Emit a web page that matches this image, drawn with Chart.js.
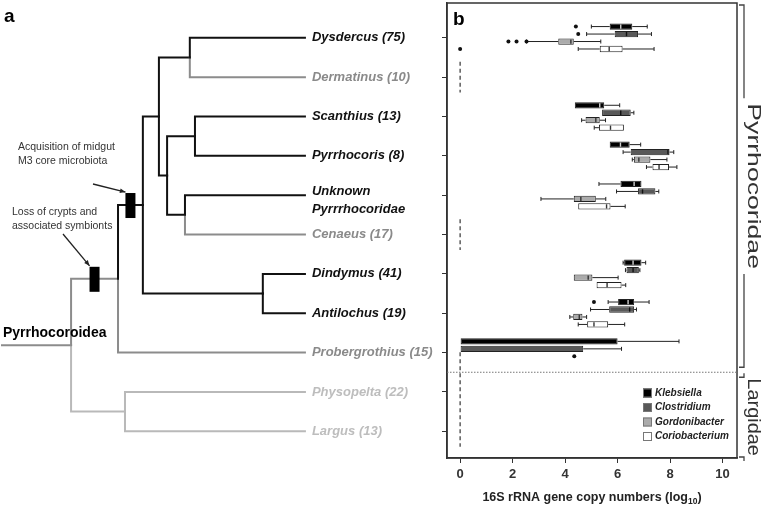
<!DOCTYPE html>
<html>
<head>
<meta charset="utf-8">
<script src="https://cdn.jsdelivr.net/npm/chart.js@4.4.1/dist/chart.umd.min.js"></script>
<style>
  html, body { margin: 0; padding: 0; background: #fff; }
  #wrap { position: relative; width: 764px; height: 507px; }
  canvas { position: absolute; left: 0; top: 0; }
  #tree { pointer-events: none; }
</style>
</head>
<body>
<div id="wrap">
  <canvas id="boxes" width="764" height="507"></canvas>
  <canvas id="tree" width="764" height="507"></canvas>
</div>
<script>
// ---- tree data ----
const taxa = ['Dysdercus (75)', 'Dermatinus (10)', 'Scanthius (13)', 'Pyrrhocoris (8)',
  'Unknown\nPyrrrhocoridae', 'Cenaeus (17)', 'Dindymus (41)', 'Antilochus (19)',
  'Probergrothius (15)', 'Physopelta (22)', 'Largus (13)'];
const taxonGroup = [0, 1, 0, 0, 0, 1, 0, 0, 1, 2, 2]; // 0 core microbiota, 1 lost, 2 Largidae
// clades are numbered after the taxa (11, 12, ...)
const cladeChildren = [[0, 1], [2, 3], [4, 5], [12, 13], [11, 14], [6, 7], [15, 16], [17, 8], [9, 10], [18, 19]];
const cladeDepth = [6.2, 6.37, 6.04, 5.45, 5.18, 8.61, 4.65, 3.83, 4.06, 2.28];
const cladeGroup = [0, 0, 0, 0, 0, 0, 0, 1, 2, 1];
const leafDepth = 10;
const events = [
  { clade: 17, lines: ['Acquisition of midgut', 'M3 core microbiota'] },
  { clade: 18, lines: ['Loss of crypts and', 'associated symbionts'] }
];

// ---- box plot data: [min, q1, median, q3, max] in log10 copies, null = not detected ----
const series = ['Klebsiella', 'Clostridium', 'Gordonibacter', 'Coriobacterium'];
const klebsiella = [
  [5.0, 5.7, 6.12, 6.56, 7.13], null, [4.37, 4.37, 5.32, 5.49, 6.08], [5.7, 5.7, 6.11, 6.46, 6.88],
  [5.29, 6.11, 6.63, 6.91, 6.91], null, [6.21, 6.25, 6.59, 6.91, 7.07], [5.64, 6.02, 6.4, 6.63, 7.2],
  [0, 0, 0, 6.0, 8.34], null, null];
const clostridium = [
  [4.82, 5.89, 6.34, 6.78, 7.29], null, [5.41, 5.41, 6.12, 6.5, 6.62], [6.21, 6.5, 7.92, 7.98, 8.14],
  [5.96, 6.78, 6.95, 7.44, 7.57], null, [6.3, 6.34, 6.59, 6.81, 6.85], [4.97, 5.68, 6.46, 6.63, 6.72],
  [0, 0, 0, 4.69, 6.15], null, null];
const gordonibacter = [
  [2.53, 3.74, 4.22, 4.33, 5.36], null, [4.63, 4.78, 5.17, 5.32, 5.54], [6.56, 6.62, 6.81, 7.25, 7.88],
  [3.08, 4.33, 4.6, 5.17, 5.55], null, [4.33, 4.33, 4.88, 5.04, 6.02], [4.18, 4.31, 4.54, 4.66, 4.82],
  null, null, null];
const coriobacterium = [
  [4.5, 5.32, 5.68, 6.19, 7.39], null, [5.11, 5.29, 5.73, 6.24, 6.24], [7.1, 7.33, 7.58, 7.96, 8.26],
  [4.5, 4.5, 5.58, 5.73, 6.29], null, [5.2, 5.2, 5.6, 6.15, 6.31], [4.5, 4.84, 5.1, 5.64, 6.27],
  null, null, null];
// outliers as [row, value]
const klebsiellaOut = [[0, 4.41], [7, 5.1]];
const clostridiumOut = [[0, 4.5]];
const gordonibacterOut = [[0, 1.84], [0, 2.15], [0, 2.53], [8, 4.35]];
const coriobacteriumOut = [[0, 0]];
const xTicks = [0, 2, 4, 6, 8, 10];

// ---- shared layout ----
const rowMin = -0.884, rowMax = 10.679;
const FONT = '"Liberation Sans", Arial, sans-serif';
const stats = [klebsiella, clostridium, gordonibacter, coriobacterium];
const outliers = [klebsiellaOut, clostridiumOut, gordonibacterOut, coriobacteriumOut];
const fills = ['#000000', '#595959', '#ababab', '#ffffff'];
const medianColors = ['#cfcfcf', '#111111', '#333333', '#333333'];

// build tree nodes
const nodeY = taxa.map((t, i) => i);
const nodeDepth = taxa.map(() => leafDepth);
const nodeGroup = taxonGroup.slice();
const parentOf = {};
cladeChildren.forEach((ch, k) => {
  const id = taxa.length + k;
  nodeY.push((nodeY[ch[0]] + nodeY[ch[1]]) / 2);
  nodeDepth.push(cladeDepth[k]);
  nodeGroup.push(cladeGroup[k]);
  ch.forEach(c => parentOf[c] = id);
});
const rootId = nodeY.length - 1;
const branchColor = ['#111111', '#8c8c8c', '#b9b9b9'];
const labelColor = ['#111111', '#8a8a8a', '#bdbdbd'];

const branches = [];
cladeChildren.forEach((ch, k) => {
  const p = taxa.length + k;
  ch.forEach(c => branches.push({
    data: [{ x: nodeDepth[p], y: nodeY[p] }, { x: nodeDepth[p], y: nodeY[c] }, { x: nodeDepth[c], y: nodeY[c] }],
    borderColor: branchColor[nodeGroup[c]]
  }));
});
branches.push({
  data: [{ x: 0, y: nodeY[rootId] }, { x: nodeDepth[rootId], y: nodeY[rootId] }],
  borderColor: branchColor[nodeGroup[rootId]]
});

// tree labels, event markers, annotations
const treeText = {
  id: 'treeText',
  afterDraw(chart) {
    const ctx = chart.ctx, xs = chart.scales.x, ys = chart.scales.y;
    ctx.save();
    ctx.textBaseline = 'middle';
    ctx.font = 'bold italic 13px ' + FONT;
    taxa.forEach((t, i) => {
      const px = xs.getPixelForValue(leafDepth) + 7, py = ys.getPixelForValue(i);
      const lines = t.split('\n');
      ctx.fillStyle = labelColor[taxonGroup[i]];
      lines.forEach((line, k) => ctx.fillText(line, px, lines.length > 1 ? py - 4 + k * 18 : py));
    });
    // events on stems
    const annot = [
      { text: [18, 147], arrow: [93, 184] },
      { text: [12, 212], arrow: [63, 234] }
    ];
    events.forEach((ev, e) => {
      const c = ev.clade, p = parentOf[c];
      const cx = (xs.getPixelForValue(nodeDepth[c]) + xs.getPixelForValue(nodeDepth[p])) / 2;
      const cy = ys.getPixelForValue(nodeY[c]);
      ctx.fillStyle = '#000';
      ctx.fillRect(cx - 5, cy - 12, 10, 25);
      ctx.font = '10.5px ' + FONT;
      ctx.fillStyle = '#333';
      ev.lines.forEach((l, k) => ctx.fillText(l, annot[e].text[0], annot[e].text[1] + k * 14));
      const [ax, ay] = annot[e].arrow, bx = cx - 5, by = cy - 13;
      ctx.strokeStyle = '#222';
      ctx.lineWidth = 1.3;
      ctx.beginPath(); ctx.moveTo(ax, ay); ctx.lineTo(bx, by); ctx.stroke();
      const ang = Math.atan2(by - ay, bx - ax);
      ctx.beginPath();
      ctx.moveTo(bx, by);
      ctx.lineTo(bx - 6 * Math.cos(ang - 0.4), by - 6 * Math.sin(ang - 0.4));
      ctx.lineTo(bx - 6 * Math.cos(ang + 0.4), by - 6 * Math.sin(ang + 0.4));
      ctx.closePath(); ctx.fillStyle = '#222'; ctx.fill();
    });
    ctx.fillStyle = '#000';
    ctx.font = 'bold 14px ' + FONT;
    ctx.fillText('Pyrrhocoroidea', 3, ys.getPixelForValue(nodeY[rootId]) - 12);
    ctx.font = 'bold 19px ' + FONT;
    ctx.fillText('a', 4, 17);
    ctx.restore();
  }
};

new Chart(document.getElementById('tree'), {
  type: 'scatter',
  data: { datasets: branches.map(b => Object.assign({ showLine: true, clip: false }, b)) },
  options: {
    responsive: false, animation: false, devicePixelRatio: 1,
    layout: { padding: { left: 0, right: 317, top: 3, bottom: 49 } },
    plugins: { legend: { display: false }, tooltip: { enabled: false } },
    elements: {
      point: { radius: 0, hoverRadius: 0 },
      line: { borderWidth: 2, tension: 0, borderCapStyle: 'square', borderJoinStyle: 'miter' }
    },
    scales: {
      x: { type: 'linear', display: false, min: -0.066, max: 14.69 },
      y: { type: 'linear', display: false, min: rowMin, max: rowMax, reverse: true }
    }
  },
  plugins: [treeText]
});

// whiskers, medians, outliers, not-detected dashes
const boxDetails = {
  id: 'boxDetails',
  afterDatasetsDraw(chart) {
    const ctx = chart.ctx, xs = chart.scales.x;
    const gaps = [];
    ctx.save();
    chart.data.datasets.forEach((ds, i) => {
      const meta = chart.getDatasetMeta(i);
      meta.data.forEach((bar, row) => {
        const s = stats[i][row], h = bar.height, y = bar.y;
        if (!s) { gaps.push([y - h / 2 - 1, y + h / 2 + 1]); return; }
        ctx.strokeStyle = '#222';
        ctx.lineWidth = 1;
        const px = s.map(v => xs.getPixelForValue(v));
        ctx.beginPath();
        if (s[0] < s[1]) { ctx.moveTo(px[0], y); ctx.lineTo(px[1], y); ctx.moveTo(px[0], y - 2); ctx.lineTo(px[0], y + 2); }
        if (s[4] > s[3]) { ctx.moveTo(px[3], y); ctx.lineTo(px[4], y); ctx.moveTo(px[4], y - 2); ctx.lineTo(px[4], y + 2); }
        ctx.stroke();
        if (s[2] > s[1]) {
          ctx.strokeStyle = medianColors[i];
          ctx.lineWidth = 1.4;
          ctx.beginPath(); ctx.moveTo(px[2], y - h / 2 + 1); ctx.lineTo(px[2], y + h / 2 - 1); ctx.stroke();
        }
      });
      ctx.fillStyle = '#111';
      outliers[i].forEach(([row, v]) => {
        const bar = meta.data[row];
        ctx.beginPath(); ctx.arc(xs.getPixelForValue(v), bar.y, 2, 0, Math.PI * 2); ctx.fill();
      });
    });
    // merge not-detected slots into dashed runs at zero
    gaps.sort((a, b) => a[0] - b[0]);
    const runs = [];
    gaps.forEach(g => {
      const last = runs[runs.length - 1];
      if (last && g[0] - last[1] < 12) last[1] = Math.max(last[1], g[1]); else runs.push(g.slice());
    });
    const x0 = xs.getPixelForValue(0);
    ctx.strokeStyle = '#444';
    ctx.lineWidth = 1.3;
    ctx.setLineDash([4, 3]);
    runs.forEach(r => { ctx.beginPath(); ctx.moveTo(x0, r[0]); ctx.lineTo(x0, r[1]); ctx.stroke(); });
    ctx.restore();
  },
  afterDraw(chart) {
    const ctx = chart.ctx, a = chart.chartArea, ys = chart.scales.y;
    ctx.save();
    // frame
    ctx.strokeStyle = '#333';
    ctx.lineWidth = 1.5;
    ctx.strokeRect(a.left, a.top, a.right - a.left, a.bottom - a.top);
    // family divider
    const yd = ys.getPixelForValue(8.5);
    ctx.setLineDash([1.5, 1.5]);
    ctx.strokeStyle = '#777';
    ctx.lineWidth = 1;
    ctx.beginPath(); ctx.moveTo(a.left, yd); ctx.lineTo(a.right, yd); ctx.stroke();
    ctx.setLineDash([]);
    // legend
    ctx.font = 'bold italic 10px ' + FONT;
    ctx.textBaseline = 'middle';
    chart.data.datasets.forEach((ds, i) => {
      const y = 393 + i * 14.5;
      ctx.fillStyle = fills[i];
      ctx.fillRect(643, y - 4.5, 9, 9);
      ctx.strokeStyle = '#777';
      ctx.lineWidth = 1;
      ctx.strokeRect(643.5, y - 4, 8, 8);
      ctx.fillStyle = '#222';
      ctx.fillText(ds.label, 655, y);
    });
    // panel letter
    ctx.fillStyle = '#000';
    ctx.font = 'bold 19px ' + FONT;
    ctx.textBaseline = 'alphabetic';
    ctx.fillText('b', 453, 25);
    // axis title with subscript
    const t1 = '16S rRNA gene copy numbers (log', t2 = '10', t3 = ')';
    ctx.font = 'bold 12.5px ' + FONT;
    const w1 = ctx.measureText(t1).width, w3 = ctx.measureText(t3).width;
    ctx.font = 'bold 8.5px ' + FONT;
    const w2 = ctx.measureText(t2).width;
    let x = (a.left + a.right) / 2 - (w1 + w2 + w3) / 2;
    ctx.fillStyle = '#222';
    ctx.font = 'bold 12.5px ' + FONT;
    ctx.fillText(t1, x, 501);
    ctx.font = 'bold 8.5px ' + FONT;
    ctx.fillText(t2, x + w1, 504);
    ctx.font = 'bold 12.5px ' + FONT;
    ctx.fillText(t3, x + w1 + w2, 501);
    // family brackets
    const bx = 744;
    ctx.strokeStyle = '#444';
    ctx.lineWidth = 1.3;
    const bracket = (y0, y1, name, stretch) => {
      const ym = (y0 + y1) / 2;
      ctx.font = '19px ' + FONT;
      const half = ctx.measureText(name).width * stretch / 2 + 5;
      ctx.beginPath();
      ctx.moveTo(bx - 5, y0); ctx.lineTo(bx, y0); ctx.lineTo(bx, ym - half);
      ctx.moveTo(bx, ym + half); ctx.lineTo(bx, y1); ctx.lineTo(bx - 5, y1);
      ctx.stroke();
      ctx.save();
      ctx.translate(bx + 9, ym);
      ctx.rotate(Math.PI / 2);
      ctx.scale(stretch, 1);
      ctx.textAlign = 'center';
      ctx.textBaseline = 'middle';
      ctx.fillStyle = '#333';
      ctx.fillText(name, 0, 0);
      ctx.restore();
    };
    bracket(a.top + 2, yd - 5, 'Pyrrhocoridae', 1.4);
    bracket(yd + 5, a.bottom - 1, 'Largidae', 1.05);
    ctx.restore();
  }
};

new Chart(document.getElementById('boxes'), {
  type: 'bar',
  data: {
    datasets: series.map((name, i) => ({
      label: name,
      data: stats[i].map((s, row) => ({ y: row, x: s ? [s[1], s[3]] : [0, 0] })),
      backgroundColor: ctx => stats[i][ctx.dataIndex] ? fills[i] : 'rgba(0,0,0,0)',
      borderColor: '#222',
      borderWidth: ctx => stats[i][ctx.dataIndex] ? 1 : 0,
      borderSkipped: false,
      categoryPercentage: 0.76,
      barPercentage: 0.84
    }))
  },
  options: {
    indexAxis: 'y',
    responsive: false, animation: false, devicePixelRatio: 1,
    layout: { padding: { left: 442, right: 27, top: 3, bottom: 0 } },
    plugins: { legend: { display: false }, tooltip: { enabled: false } },
    scales: {
      y: {
        type: 'linear', min: rowMin, max: rowMax, reverse: true, offset: false,
        afterBuildTicks: s => { s.ticks = taxa.map((t, i) => ({ value: i })); },
        afterFit: s => { s.width = 5; },
        ticks: { display: false },
        grid: { offset: false, drawOnChartArea: false, tickLength: 5, color: '#333' },
        border: { color: '#333', width: 1.5 }
      },
      x: {
        type: 'linear', min: -0.5, max: 10.55,
        afterBuildTicks: s => { s.ticks = xTicks.map(v => ({ value: v })); },
        afterFit: s => { s.height = 49; },
        ticks: { color: '#333', padding: 4, font: { family: FONT, size: 13, weight: 'bold' } },
        grid: { drawOnChartArea: false, tickLength: 5, color: '#333' },
        border: { color: '#333', width: 1.5 }
      }
    }
  },
  plugins: [boxDetails]
});
</script>
</body>
</html>
